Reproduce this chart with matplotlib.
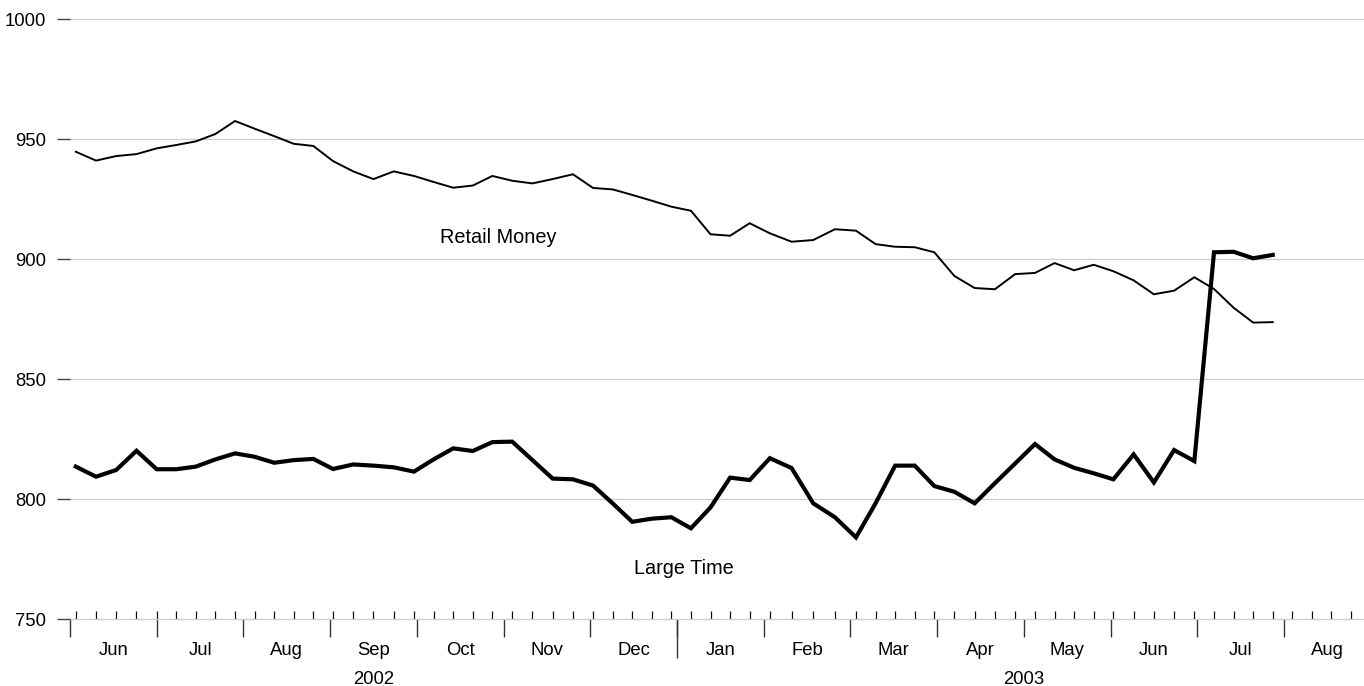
import matplotlib
matplotlib.use("Agg")
import matplotlib.pyplot as plt
import pandas as pd

plt.rcParams['font.family'] = ['Liberation Sans', 'DejaVu Sans']

# ---------------- data ----------------
week_start = '2002-06-03'
week_end = '2003-07-28'
retail_money = [944.7, 941.0, 942.9, 943.7, 946.1, 947.5, 949.0, 952.1, 957.5,
                954.3, 951.2, 948.0, 947.1, 940.8, 936.5, 933.3, 936.5, 934.6,
                932.1, 929.7, 930.6, 934.6, 932.6, 931.5, 933.3, 935.3, 929.6,
                929.0, 926.7, 924.3, 921.8, 920.1, 910.3, 909.7, 914.9, 910.7,
                907.2, 907.9, 912.4, 911.8, 906.2, 905.1, 904.9, 902.8, 892.9,
                887.9, 887.4, 893.7, 894.2, 898.3, 895.3, 897.6, 894.9, 891.1,
                885.3, 886.8, 892.4, 887.5, 879.7, 873.5, 873.7]
large_time = [813.5, 809.3, 812.1, 820.1, 812.4, 812.4, 813.5, 816.5, 819.0,
              817.6, 815.1, 816.2, 816.7, 812.5, 814.4, 813.9, 813.2, 811.4,
              816.5, 821.1, 820.0, 823.7, 823.9, 816.2, 808.5, 808.2, 805.6,
              798.2, 790.5, 791.8, 792.4, 787.8, 796.5, 808.9, 807.9, 817.0,
              812.9, 798.2, 792.4, 784.0, 798.2, 813.9, 813.9, 805.4, 803.0,
              798.2, 806.6, 814.8, 822.9, 816.5, 813.0, 810.7, 808.2, 818.6,
              806.9, 820.4, 815.8, 902.8, 903.0, 900.3, 901.7]
month_labels = ['Jun', 'Jul', 'Aug', 'Sep', 'Oct', 'Nov', 'Dec',
                'Jan', 'Feb', 'Mar', 'Apr', 'May', 'Jun', 'Jul', 'Aug']
year_labels = ['2002', '2003']
y_ticks = [750, 800, 850, 900, 950, 1000]


def mpos(d):
    """Position in 'month units' (each calendar month has equal width)."""
    d = pd.Timestamp(d)
    return (d.year - 2002) * 12 + (d.month - 6) + (d.day - 1) / d.days_in_month


dates = pd.date_range(week_start, week_end, freq='W-MON')
x = [mpos(d) for d in dates]
minor_dates = pd.date_range(week_start, '2003-08-31', freq='W-MON')
minor_x = [mpos(d) for d in minor_dates]

# ---------------- figure ----------------
W, H = 1364, 686
fig = plt.figure(figsize=(W / 100, H / 100), dpi=100)
ax = fig.add_axes([70 / W, 1 - 619 / H, (W - 70) / W, 600 / H])

ax.plot(x, retail_money, color='black', lw=1.4, solid_joinstyle='miter')
ax.plot(x, large_time, color='black', lw=3.0, solid_joinstyle='miter')

ax.set_xlim(0, (W - 70) / 86.71)
ax.set_ylim(750, 1000)

for s in ax.spines.values():
    s.set_visible(False)

ax.set_yticks(y_ticks)
ax.set_yticklabels([str(v) for v in y_ticks])
ax.tick_params(axis='y', direction='out', length=9.4, width=1.0,
               color='#444444', pad=8, labelsize=13.3)
ax.yaxis.grid(True, color='#cccccc', lw=0.9)
for gl in ax.get_ygridlines():
    gl.set_clip_on(False)

n_months = len(month_labels)
ax.set_xticks(list(range(n_months)))
ax.set_xticklabels([])
ax.set_xticks(minor_x, minor=True)
ax.xaxis.remove_overlapping_locs = False
ax.tick_params(axis='x', which='major', direction='out', length=13,
               width=1.0, color='#333333')
ax.tick_params(axis='x', which='minor', direction='in', length=5.8,
               width=0.9, color='#111111')

# month labels
sm = ax.secondary_xaxis('bottom')
sm.set_xticks([i + 0.5 for i in range(n_months)])
sm.set_xticklabels(month_labels)
sm.tick_params(length=0, pad=16.5, labelsize=13.3)
for s in sm.spines.values():
    s.set_visible(False)

# year boundary tick + year labels
sy = ax.secondary_xaxis('bottom')
sy.set_xticks([7])
sy.set_xticklabels([''])
sy.tick_params(length=28, width=1.0, color='#333333')
for s in sy.spines.values():
    s.set_visible(False)

sl = ax.secondary_xaxis('bottom')
sl.set_xticks([3.5, 11.0])
sl.set_xticklabels(year_labels)
sl.tick_params(length=0, pad=37.5, labelsize=13.3)
for s in sl.spines.values():
    s.set_visible(False)

ax.text(4.944, 906.5, 'Retail Money', ha='center', va='baseline', fontsize=14.3)
ax.text(7.078, 768.6, 'Large Time', ha='center', va='baseline', fontsize=14.3)

fig.savefig('out.png', dpi=100)
